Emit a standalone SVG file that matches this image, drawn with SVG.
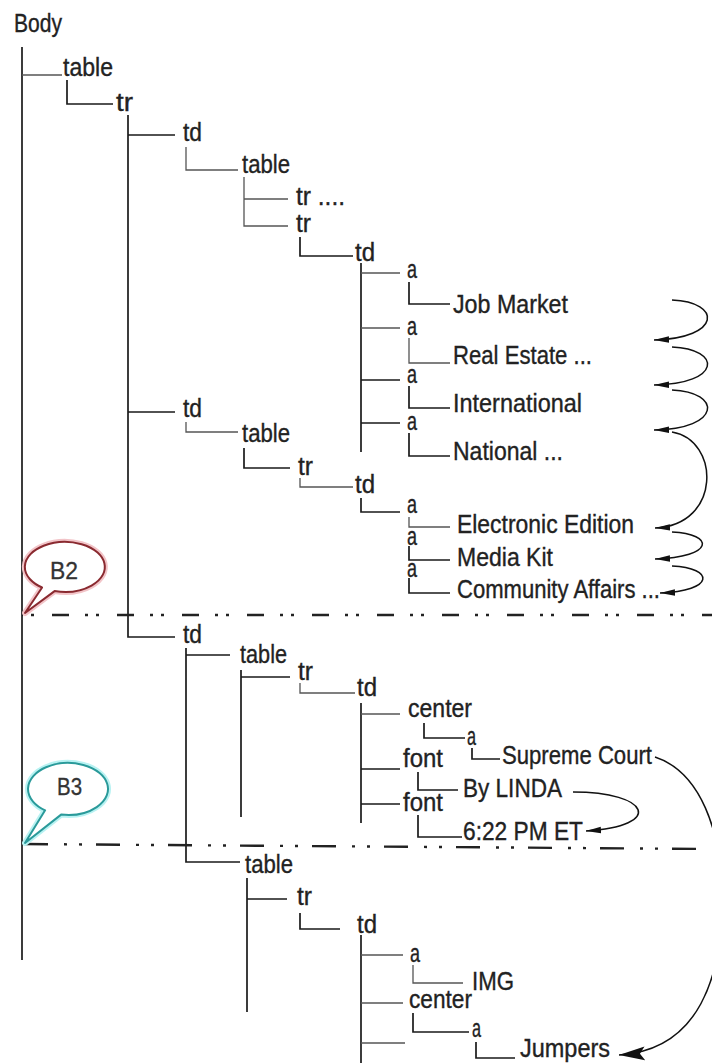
<svg xmlns="http://www.w3.org/2000/svg" width="712" height="1063" viewBox="0 0 712 1063">
<style>
.t{font-family:"Liberation Sans Narrow","Liberation Sans",Arial,sans-serif;font-size:25px;fill:#222;stroke:#222;stroke-width:0.35}
.b{font-family:"Liberation Sans Narrow","Liberation Sans",Arial,sans-serif;font-size:23px;fill:#333;stroke:#333;stroke-width:0.3}
.d{stroke:#1a1a1a;stroke-width:1.7;fill:none}
.g{stroke:#555;stroke-width:1.3;fill:none}
.dd{stroke:#222;stroke-width:2.4;fill:none}
.arc{stroke:#111;stroke-width:1.5;fill:none}
</style>
<defs>
<marker id="ah" markerUnits="userSpaceOnUse" markerWidth="16" markerHeight="10" refX="15" refY="5" orient="auto">
<path d="M0,1.8 L15,5 L0,8.2 Z" fill="#111"/>
</marker>
<marker id="ahBig" markerUnits="userSpaceOnUse" markerWidth="28" markerHeight="16" refX="26" refY="8" orient="auto">
<path d="M0,1 L26,8 L0,15 L5,8 Z" fill="#111"/>
</marker>
</defs>
<rect width="712" height="1063" fill="#fff"/>

<g id="connectors">
<path class="d" d="M22,47 V960 M67,80 V104 H113 M128,115 V637 H175 M128,135 H175 M128,412 H175 M300,237 V256 H353 M361,263 V452 M361,380 H400 M361,423 H400 M409,282 V304 H450 M409,386 V408 H450 M409,433 V456 H450 M244,448 V468 H290 M361,498 V512 H400 M409,546 V560 H450 M409,578 V593 H450 M186,648 V862 H240 M186,655 H230 M241,670 V817 M241,677 H290 M361,703 V823 M361,769 H400 M361,804 H400 M424,723 V738 H465 M472,748 V759 H500 M418,772 V790 H458 M418,815 V837 H462 M247,878 V1012 M247,899 H287 M300,913 V929 H340 M361,935 V1063 M413,1013 V1032 H469 M476,1042 V1058 H515"/>
<path class="g" d="M22,75 H62 M186,147 V170 H238 M244,177 V226 H288 M244,199 H288 M361,273 H400 M361,328 H400 M409,338 V363 H450 M186,422 V432 H238 M300,478 V487 H353 M409,517 V527 H450 M300,683 V693 H355 M361,714 H400 M361,955 H403 M361,1003 H403 M361,1043 H405 M413,965 V983 H463"/>
<path class="arc" marker-end="url(#ah)" d="M672,300 C722,302 722,338 654,340"/>
<path class="arc" marker-end="url(#ah)" d="M672,347 C722,349 722,384 654,385"/>
<path class="arc" marker-end="url(#ah)" d="M672,390 C722,392 722,429 654,430"/>
<path class="arc" marker-end="url(#ah)" d="M672,432 C720,440 722,525 655,528"/>
<path class="arc" marker-end="url(#ah)" d="M672,532 C715,534 715,557 655,559"/>
<path class="arc" marker-end="url(#ah)" d="M672,566 C715,568 715,591 660,593"/>
<path class="arc" marker-end="url(#ah)" d="M573,792 C650,792 665,826 586,831"/>
<path class="arc" marker-end="url(#ahBig)" d="M655,757 C700,772 722,830 722,900 C722,975 700,1050 619,1055"/>
<line class="dd" x1="22" y1="615" x2="712" y2="615" stroke-dasharray="17 16 3 8 3 18" stroke-dashoffset="-30"/>
<line class="dd" x1="22" y1="844" x2="712" y2="849" stroke-dasharray="24 16 3 12 3 14" stroke-dashoffset="-2"/>
</g>

<g id="B2">
<path d="M54.6,591.1 L25,613 L42.1,587.5 A40,25 0 1 1 54.6,591.1 Z" fill="none" stroke="#f2c4c8" stroke-width="6" stroke-linejoin="round"/>
<path d="M54.6,591.1 L25,613 L42.1,587.5 A40,25 0 1 1 54.6,591.1 Z" fill="#fff" stroke="#8a2a30" stroke-width="2" stroke-linejoin="round"/>
<text class="b" x="50" y="579" textLength="28" lengthAdjust="spacingAndGlyphs">B2</text>
</g>
<g id="B3">
<path d="M61.1,814.6 L25,843 L45.1,810.3 A40,26 0 1 1 61.1,814.6 Z" fill="none" stroke="#b8f2f2" stroke-width="6" stroke-linejoin="round"/>
<path d="M61.1,814.6 L25,843 L45.1,810.3 A40,26 0 1 1 61.1,814.6 Z" fill="#fff" stroke="#2a9a9a" stroke-width="2" stroke-linejoin="round"/>
<text class="b" x="57" y="795" textLength="25" lengthAdjust="spacingAndGlyphs">B3</text>
</g>

<g id="n-body"><text class="t" x="14" y="32" textLength="48" lengthAdjust="spacingAndGlyphs">Body</text></g>
<g id="n-table1"><text class="t" x="63" y="76" textLength="50" lengthAdjust="spacingAndGlyphs">table</text></g>
<g id="n-tr1"><text class="t" x="116" y="111" textLength="17" lengthAdjust="spacingAndGlyphs">tr</text></g>
<g id="n-td1"><text class="t" x="183" y="141" textLength="19" lengthAdjust="spacingAndGlyphs">td</text></g>
<g id="n-table2"><text class="t" x="242" y="173" textLength="48" lengthAdjust="spacingAndGlyphs">table</text></g>
<g id="n-tr2"><text class="t" x="296" y="205" textLength="49" lengthAdjust="spacingAndGlyphs">tr ....</text></g>
<g id="n-tr3"><text class="t" x="296" y="232" textLength="15" lengthAdjust="spacingAndGlyphs">tr</text></g>
<g id="n-td2"><text class="t" x="355" y="261" textLength="20" lengthAdjust="spacingAndGlyphs">td</text></g>
<g id="n-a1"><text class="t" x="407" y="278" textLength="10" lengthAdjust="spacingAndGlyphs">a</text></g>
<g id="n-job"><text class="t" x="453" y="313" textLength="115" lengthAdjust="spacingAndGlyphs">Job Market</text></g>
<g id="n-a2"><text class="t" x="407" y="335" textLength="10" lengthAdjust="spacingAndGlyphs">a</text></g>
<g id="n-real"><text class="t" x="453" y="364" textLength="139" lengthAdjust="spacingAndGlyphs">Real Estate ...</text></g>
<g id="n-a3"><text class="t" x="407" y="383" textLength="10" lengthAdjust="spacingAndGlyphs">a</text></g>
<g id="n-intl"><text class="t" x="453" y="412" textLength="129" lengthAdjust="spacingAndGlyphs">International</text></g>
<g id="n-a4"><text class="t" x="407" y="430" textLength="10" lengthAdjust="spacingAndGlyphs">a</text></g>
<g id="n-natl"><text class="t" x="453" y="460" textLength="110" lengthAdjust="spacingAndGlyphs">National ...</text></g>
<g id="n-td3"><text class="t" x="183" y="417" textLength="19" lengthAdjust="spacingAndGlyphs">td</text></g>
<g id="n-table3"><text class="t" x="242" y="442" textLength="48" lengthAdjust="spacingAndGlyphs">table</text></g>
<g id="n-tr4"><text class="t" x="298" y="475" textLength="15" lengthAdjust="spacingAndGlyphs">tr</text></g>
<g id="n-td4"><text class="t" x="355" y="493" textLength="20" lengthAdjust="spacingAndGlyphs">td</text></g>
<g id="n-a5"><text class="t" x="407" y="513" textLength="10" lengthAdjust="spacingAndGlyphs">a</text></g>
<g id="n-elec"><text class="t" x="457" y="533" textLength="177" lengthAdjust="spacingAndGlyphs">Electronic Edition</text></g>
<g id="n-a6"><text class="t" x="407" y="545" textLength="10" lengthAdjust="spacingAndGlyphs">a</text></g>
<g id="n-media"><text class="t" x="457" y="566" textLength="96" lengthAdjust="spacingAndGlyphs">Media Kit</text></g>
<g id="n-a7"><text class="t" x="407" y="577" textLength="10" lengthAdjust="spacingAndGlyphs">a</text></g>
<g id="n-comm"><text class="t" x="457" y="598" textLength="203" lengthAdjust="spacingAndGlyphs">Community Affairs ...</text></g>
<g id="n-td5"><text class="t" x="183" y="643" textLength="19" lengthAdjust="spacingAndGlyphs">td</text></g>
<g id="n-table4"><text class="t" x="240" y="663" textLength="47" lengthAdjust="spacingAndGlyphs">table</text></g>
<g id="n-tr5"><text class="t" x="298" y="680" textLength="15" lengthAdjust="spacingAndGlyphs">tr</text></g>
<g id="n-td6"><text class="t" x="357" y="696" textLength="20" lengthAdjust="spacingAndGlyphs">td</text></g>
<g id="n-center1"><text class="t" x="408" y="717" textLength="64" lengthAdjust="spacingAndGlyphs">center</text></g>
<g id="n-a8"><text class="t" x="467" y="745" textLength="9" lengthAdjust="spacingAndGlyphs">a</text></g>
<g id="n-supreme"><text class="t" x="502" y="764" textLength="150" lengthAdjust="spacingAndGlyphs">Supreme Court</text></g>
<g id="n-font1"><text class="t" x="403" y="767" textLength="40" lengthAdjust="spacingAndGlyphs">font</text></g>
<g id="n-linda"><text class="t" x="463" y="797" textLength="99" lengthAdjust="spacingAndGlyphs">By LINDA</text></g>
<g id="n-font2"><text class="t" x="403" y="811" textLength="40" lengthAdjust="spacingAndGlyphs">font</text></g>
<g id="n-time"><text class="t" x="463" y="840" textLength="120" lengthAdjust="spacingAndGlyphs">6:22 PM ET</text></g>
<g id="n-table5"><text class="t" x="245" y="873" textLength="48" lengthAdjust="spacingAndGlyphs">table</text></g>
<g id="n-tr6"><text class="t" x="297" y="905" textLength="15" lengthAdjust="spacingAndGlyphs">tr</text></g>
<g id="n-td7"><text class="t" x="357" y="933" textLength="20" lengthAdjust="spacingAndGlyphs">td</text></g>
<g id="n-a9"><text class="t" x="410" y="962" textLength="10" lengthAdjust="spacingAndGlyphs">a</text></g>
<g id="n-img"><text class="t" x="472" y="990" textLength="42" lengthAdjust="spacingAndGlyphs">IMG</text></g>
<g id="n-center2"><text class="t" x="409" y="1008" textLength="63" lengthAdjust="spacingAndGlyphs">center</text></g>
<g id="n-a10"><text class="t" x="472" y="1037" textLength="9" lengthAdjust="spacingAndGlyphs">a</text></g>
<g id="n-jumpers"><text class="t" x="520" y="1057" font-size="23" textLength="90" lengthAdjust="spacingAndGlyphs">Jumpers</text></g>
</svg>
